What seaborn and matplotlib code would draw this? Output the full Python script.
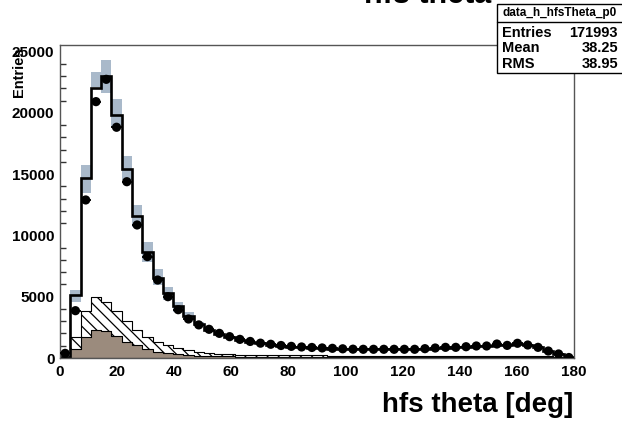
import numpy as np
import pandas as pd
import matplotlib
matplotlib.use("Agg")
import matplotlib.pyplot as plt
from matplotlib.patches import Rectangle
from matplotlib.lines import Line2D
import seaborn as sns

# ---------------- data (50 bins of 3.6 deg, 0..180) ----------------
bin_edges = [round(3.6 * i, 1) for i in range(51)]

data_counts = [380, 3860, 12890, 20910, 22730, 18820, 14380, 10850, 8270, 6360,
               5000, 3940, 3180, 2700, 2340, 2010, 1740, 1520, 1350, 1210,
               1120, 1020, 950, 900, 860, 820, 790, 750, 720, 710,
               710, 710, 710, 710, 710, 760, 815, 870, 870, 920,
               980, 980, 1140, 1030, 1200, 1060, 870, 570, 330, 40]

mc_total = [60, 5150, 14650, 22050, 23000, 19820, 15390, 11550, 8620, 6550,
            5300, 4220, 3450, 2800, 2300, 1950, 1700, 1480, 1320, 1190,
            1100, 990, 920, 870, 830, 790, 770, 740, 720, 710,
            700, 700, 700, 700, 700, 740, 790, 840, 860, 900,
            950, 960, 1100, 1020, 1150, 1050, 880, 580, 340, 60]

mc_hatched_top = [0, 1680, 3850, 4950, 4590, 3850, 3040, 2280, 1740, 1280,
                  1050, 850, 650, 500, 420, 350, 300, 260, 260, 260,
                  220, 220, 220, 220, 220, 220, 150, 150, 150, 150,
                  150, 150, 150, 150, 200, 200, 200, 200, 200, 200,
                  200, 200, 200, 200, 200, 200, 200, 150, 100, 40]

mc_brown = [0, 720, 1740, 2280, 2200, 1830, 1290, 1060, 730, 510,
            380, 300, 240, 200, 170, 150, 130, 120, 110, 100,
            90, 90, 85, 85, 80, 80, 80, 75, 75, 75,
            75, 70, 70, 70, 80, 80, 80, 80, 80, 80,
            80, 80, 80, 80, 80, 80, 80, 60, 40, 20]

# systematic band (visible part, first bins)
band_lo = [0, 4600, 13430, 22080, 21590, 18730, 14520, 10660, 7860, 5950, 4730, 3780, 3100, 2650]
band_hi = [120, 5550, 15740, 23300, 24306, 21100, 16470, 12480, 9440, 7230, 5820, 4590, 3780, 2950]

x_ticks = [0, 20, 40, 60, 80, 100, 120, 140, 160, 180]
y_ticks = [0, 5000, 10000, 15000, 20000, 25000]

stats_name = "data_h_hfsTheta_p0"
stats_rows = [("Entries", "171993"), ("Mean", "38.25"), ("RMS", "38.95")]

# ---------------- figure ----------------
sns.set_style("white")
plt.rcParams["font.family"] = ["Liberation Sans", "DejaVu Sans"]
plt.rcParams["hatch.linewidth"] = 0.9
plt.rcParams["text.color"] = "black"
plt.rcParams["xtick.color"] = "black"
plt.rcParams["ytick.color"] = "black"

W, H = 622, 421
fig = plt.figure(figsize=(W / 100, H / 100), dpi=100)
ax = fig.add_axes([60 / W, 63 / H, 514 / W, 313 / H])

edges = np.array(bin_edges)
centers = 0.5 * (edges[:-1] + edges[1:])
bw = edges[1] - edges[0]
df = pd.DataFrame({"x": centers, "total": mc_total, "hatch": mc_hatched_top,
                   "brown": mc_brown, "data": data_counts})

# total MC fill (white)
sns.histplot(data=df, x="x", weights="total", bins=bin_edges, element="step",
             fill=True, color="white", alpha=1, linewidth=0, ax=ax, zorder=1.0)

# systematic band
nb = len(band_lo)
ax.bar(centers[:nb], np.array(band_hi) - np.array(band_lo), bottom=band_lo,
       width=bw, color="#a9b9ca", linewidth=0, zorder=1.1)

# hatched component (stacked on brown)
sns.histplot(data=df, x="x", weights="hatch", bins=bin_edges, element="step",
             fill=True, color="white", alpha=1, edgecolor="black", linewidth=0.8,
             hatch="\\\\\\", ax=ax, zorder=1.3)

# brown component
sns.histplot(data=df, x="x", weights="brown", bins=bin_edges, element="step",
             fill=True, color="#9b8b7d", alpha=1, edgecolor="black", linewidth=0.8,
             ax=ax, zorder=1.4)

# total MC outline
ax.stairs(mc_total, edges, color="black", linewidth=1.9, zorder=1.6)

# data points
ax.errorbar(centers, data_counts, yerr=np.sqrt(data_counts), xerr=bw / 2,
            fmt="none", ecolor="black", elinewidth=1.3, capsize=0, zorder=3)
sns.scatterplot(data=df, x="x", y="data", color="black", s=44, edgecolor="none",
                ax=ax, zorder=3.1)

ax.set_xlim(0, 180)
ax.set_ylim(0, 25530)
ax.set_xlabel("")
ax.set_ylabel("")
ax.set_xticks(x_ticks)
ax.set_yticks(y_ticks)
ax.set_yticks(np.arange(0, 25001, 1000), minor=True)
ax.set_axisbelow(True)
ax.tick_params(axis="y", which="major", direction="in", length=8, width=1,
               color="#333333", labelcolor="black", labelsize=11, pad=4)
ax.tick_params(axis="y", which="minor", direction="in", length=4.5, width=1,
               color="#333333", left=True)
ax.tick_params(axis="x", which="both", length=0, labelcolor="black", labelsize=11, pad=5)
for lab in ax.get_xticklabels() + ax.get_yticklabels():
    lab.set_fontweight("bold")
for s in ax.spines.values():
    s.set_color("#555555")
    s.set_linewidth(1.0)

# axis titles
fig.text(573 / W, 1 - 405 / H, "hfs theta [deg]", ha="right", va="center",
         fontsize=20, fontweight="bold", color="black")
fig.text(19 / W, 1 - 47 / H, "Entries", rotation=90, ha="center", va="top",
         fontsize=10.5, fontweight="bold", color="black")

# clipped title at the very top
fig.text(428 / W, 1 - 3 / H, "hfs theta", ha="center", va="baseline",
         fontsize=22, fontweight="bold", color="black")

# stats box
bx0, bx1, by0, by1, bsep = 497, 623, 4, 73, 22
fig.patches.append(Rectangle((bx0 / W, 1 - by1 / H), (bx1 - bx0) / W, (by1 - by0) / H,
                             transform=fig.transFigure, facecolor="white",
                             edgecolor="black", linewidth=1.0, zorder=5))
fig.lines.append(Line2D([bx0 / W, bx1 / W], [1 - bsep / H, 1 - bsep / H],
                        transform=fig.transFigure, color="black", linewidth=1.0, zorder=6))
fig.text((bx0 + bx1) / 2 / W, 1 - 13 / H, stats_name, ha="center", va="center",
         fontsize=8.5, fontweight="bold", color="black", zorder=7)
for (name, val), yy in zip(stats_rows, [33, 48.5, 64]):
    fig.text(502 / W, 1 - yy / H, name, ha="left", va="center", fontsize=10.5,
             fontweight="bold", color="black", zorder=7)
    fig.text(618 / W, 1 - yy / H, val, ha="right", va="center", fontsize=10.5,
             fontweight="bold", color="black", zorder=7)

fig.savefig("out.png", dpi=100)
